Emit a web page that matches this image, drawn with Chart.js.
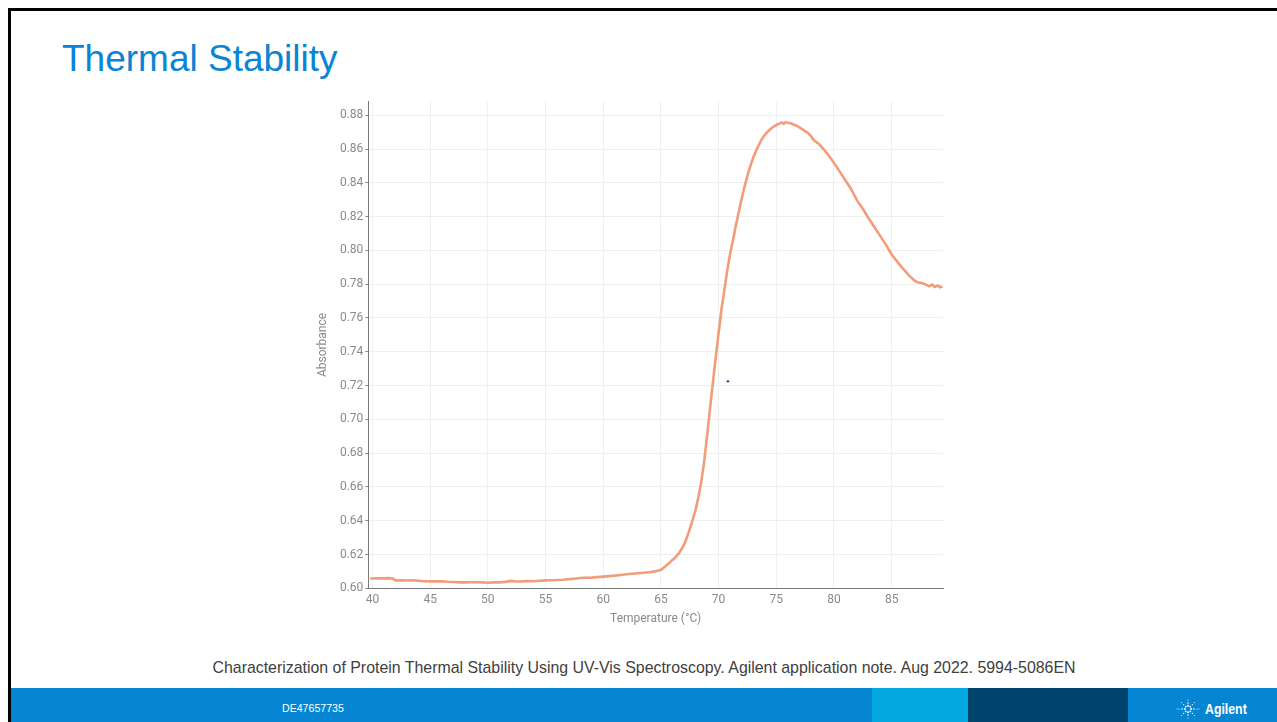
<!DOCTYPE html>
<html>
<head>
<meta charset="utf-8">
<title>Thermal Stability</title>
<script src="https://cdn.jsdelivr.net/npm/chart.js@4.4.1/dist/chart.umd.min.js"></script>
<style>
  html, body { margin: 0; padding: 0; background: #fff; }
  body { width: 1277px; height: 722px; position: relative; overflow: hidden;
         font-family: "Liberation Sans", Arial, sans-serif; }
  #frame { position: absolute; left: 8px; top: 8px; right: -4px; bottom: -4px;
           border-left: 3px solid #000; border-top: 3px solid #000; }
  #title { position: absolute; left: 62px; top: 40px; font-size: 37px; line-height: 37px;
           color: #0a84d4; white-space: nowrap; }
  #chartBox { position: absolute; left: 300px; top: 90px; width: 660px; height: 545px; }
  #cite { position: absolute; left: 0; width: 1288px; top: 660px; text-align: center;
          font-size: 15.9px; line-height: 16px; color: #404040; white-space: nowrap; }
  #band { position: absolute; left: 11px; right: 0; top: 688px; height: 34px; background: #0685d3; }
  #band .seg { position: absolute; top: 0; height: 34px; }
  #docId { position: absolute; left: 282px; top: 703px; font-size: 10.6px; line-height: 11px;
           color: #fff; white-space: nowrap; }
  #brand { position: absolute; left: 1176px; top: 698px; height: 22px; display: flex; align-items: center; }
  #brand span { font-family: "Liberation Sans Narrow", "Liberation Sans", Arial, sans-serif;
                font-weight: bold; font-size: 14px; color: #fff; margin-left: 5px;
                display: inline-block; transform: scaleX(0.88); transform-origin: left center; }
</style>
</head>
<body>
<div id="frame"></div>
<div id="title">Thermal Stability</div>
<div id="chartBox"><canvas id="chart" width="660" height="545"></canvas></div>
<div id="cite">Characterization of Protein Thermal Stability Using UV-Vis Spectroscopy. Agilent application note. Aug 2022. 5994-5086EN</div>
<div id="band">
  <div class="seg" style="left:861px;width:96px;background:#00a8df;"></div>
  <div class="seg" style="left:957px;width:160px;background:#00436e;"></div>
</div>
<div id="docId">DE47657735</div>
<div id="brand">
  <svg width="24" height="22" viewBox="-12 -11 24 22">
    <g fill="#fff">
      <circle r="1" cx="0" cy="-3.2"/><circle r="1" cx="0" cy="3.2"/>
      <circle r="1" cx="-3.2" cy="0"/><circle r="1" cx="3.2" cy="0"/>
      <circle r="0.9" cx="-2.3" cy="-2.3"/><circle r="0.9" cx="2.3" cy="-2.3"/>
      <circle r="0.9" cx="-2.3" cy="2.3"/><circle r="0.9" cx="2.3" cy="2.3"/>
      <circle r="0.8" cx="0" cy="-6"/><circle r="0.8" cx="0" cy="6"/>
      <circle r="0.8" cx="-6" cy="0"/><circle r="0.8" cx="6" cy="0"/>
      <circle r="0.7" cx="-4.4" cy="-4.4"/><circle r="0.7" cx="4.4" cy="-4.4"/>
      <circle r="0.7" cx="-4.4" cy="4.4"/><circle r="0.7" cx="4.4" cy="4.4"/>
      <circle r="0.6" cx="0" cy="-9"/><circle r="0.6" cx="0" cy="9"/>
      <circle r="0.6" cx="-9" cy="0"/><circle r="0.6" cx="9" cy="0"/>
      <circle r="0.5" cx="-6.5" cy="-6.5"/><circle r="0.5" cx="6.5" cy="-6.5"/>
      <circle r="0.5" cx="-6.5" cy="6.5"/><circle r="0.5" cx="6.5" cy="6.5"/>
      <circle r="0.5" cx="-11" cy="0"/><circle r="0.5" cx="11" cy="0"/>
    </g>
  </svg>
  <span>Agilent</span>
</div>

<script>
// Melting curve: absorbance vs. temperature
const temperatureC = [
  39.8, 40.5, 41.0, 41.5, 41.8, 42.0, 42.5, 43.0, 43.5, 44.0, 44.5, 45.0, 45.5, 46.0, 46.5,
  47.0, 47.5, 48.0, 48.5, 49.0, 49.5, 50.0, 50.5, 51.0, 51.5, 52.0, 52.5, 53.0, 53.5, 54.0,
  54.5, 55.0, 55.5, 56.0, 56.5, 57.0, 57.5, 58.0, 58.5, 59.0, 59.5, 60.0, 60.5, 61.0, 61.5,
  62.0, 62.5, 63.0, 63.5, 64.0, 64.5, 65.0, 65.25, 65.5, 65.75, 66.0, 66.25, 66.5, 66.75, 67.0,
  67.25, 67.5, 67.75, 68.0, 68.25, 68.5, 68.75, 69.0, 69.25, 69.5, 69.75, 70.0, 70.25, 70.5, 70.75,
  71.0, 71.25, 71.5, 71.75, 72.0, 72.25, 72.5, 72.75, 73.0, 73.25, 73.5, 73.75, 74.0, 74.25, 74.5,
  74.75, 75.0, 75.25, 75.5, 75.65, 75.8, 76.0, 76.25, 76.5, 76.75, 77.0, 77.25, 77.5, 77.75, 78.0,
  78.25, 78.5, 78.75, 79.0, 79.5, 80.0, 80.5, 81.0, 81.5, 81.75, 82.0, 82.5, 83.0, 83.5, 84.0,
  84.5, 85.0, 85.5, 86.0, 86.5, 86.75, 87.0, 87.25, 87.5, 87.75, 88.0, 88.25, 88.5, 88.75, 89.0,
  89.2, 89.4
];
const absorbance = [
  0.6058, 0.6059, 0.6059, 0.6060, 0.6056, 0.6046, 0.6047, 0.6046, 0.6047, 0.6045, 0.6042, 0.6041, 0.6041, 0.6042, 0.6039,
  0.6037, 0.6035, 0.6035, 0.6036, 0.6036, 0.6035, 0.6033, 0.6035, 0.6035, 0.6038, 0.6044, 0.6040, 0.6041, 0.6043, 0.6042,
  0.6045, 0.6047, 0.6048, 0.6049, 0.6051, 0.6054, 0.6057, 0.6061, 0.6062, 0.6063, 0.6066, 0.6069, 0.6072, 0.6075, 0.6079,
  0.6083, 0.6086, 0.6089, 0.6092, 0.6095, 0.6100, 0.6110, 0.6122, 0.6136, 0.6152, 0.6168, 0.6183, 0.6202, 0.6226, 0.6258,
  0.6300, 0.6350, 0.6405, 0.6463, 0.6540, 0.6630, 0.6750, 0.6900, 0.7058, 0.7213, 0.7365, 0.7510, 0.7650, 0.7765, 0.7880,
  0.7980, 0.8062, 0.8148, 0.8228, 0.8305, 0.8378, 0.8442, 0.8498, 0.8548, 0.8590, 0.8626, 0.8658, 0.8684, 0.8702, 0.8718,
  0.8732, 0.8742, 0.8750, 0.8757, 0.8749, 0.8758, 0.8755, 0.8752, 0.8745, 0.8738, 0.8728, 0.8718, 0.8706, 0.8695, 0.8676,
  0.8652, 0.8640, 0.8626, 0.8607, 0.8566, 0.8518, 0.8466, 0.8414, 0.8362, 0.8328, 0.8296, 0.8246, 0.8190, 0.8138, 0.8086,
  0.8034, 0.7976, 0.7932, 0.7890, 0.7852, 0.7836, 0.7820, 0.7812, 0.7808, 0.7804, 0.7796, 0.7787, 0.7797, 0.7784, 0.7792,
  0.7782, 0.7786
];
// Cursor marker left on the plot
const markerTemp = [70.81];
const markerAbs = [0.7225];

const xTickValues = [40, 45, 50, 55, 60, 65, 70, 75, 80, 85];
const yTickValues = [0.60, 0.62, 0.64, 0.66, 0.68, 0.70, 0.72, 0.74, 0.76, 0.78, 0.80, 0.82, 0.84, 0.86, 0.88];

const axisFont = { family: 'Roboto', size: 12 };
const labelColor = '#8a8a8a';
const gridColor = '#efefef';
const axisLineColor = '#7a7a7a';

new Chart(document.getElementById('chart'), {
  type: 'line',
  data: {
    datasets: [
      {
        data: temperatureC.map((t, i) => ({ x: t, y: absorbance[i] })),
        borderColor: '#f39c79',
        borderWidth: 2.6,
        pointRadius: 0,
        tension: 0,
        fill: false,
        order: 2
      },
      {
        type: 'scatter',
        data: markerTemp.map((t, i) => ({ x: t, y: markerAbs[i] })),
        pointRadius: 1.2,
        pointBackgroundColor: '#262699',
        pointBorderWidth: 0,
        order: 1
      }
    ]
  },
  options: {
    responsive: false,
    animation: false,
    events: [],
    layout: { padding: { left: 0, right: 17, top: 11.7, bottom: 0 } },
    plugins: { legend: { display: false }, tooltip: { enabled: false } },
    scales: {
      x: {
        type: 'linear',
        min: 39.64,
        max: 89.45,
        afterBuildTicks: s => { s.ticks = xTickValues.map(v => ({ value: v })); },
        afterFit: s => { s.height = 46.7; },
        grid: { color: gridColor, drawTicks: false },
        border: { color: axisLineColor, width: 1 },
        ticks: { padding: 4, color: labelColor, font: axisFont, maxRotation: 0, callback: v => String(v) },
        title: { display: true, text: 'Temperature (°C)', color: labelColor, font: axisFont,
                 padding: { top: 0, bottom: 8.8 } }
      },
      y: {
        type: 'linear',
        min: 0.60,
        max: 0.888,
        afterBuildTicks: s => { s.ticks = yTickValues.map(v => ({ value: v })); },
        afterFit: s => { s.width = 68.3; },
        grid: { color: gridColor, tickLength: 3, tickColor: '#8a8a8a' },
        border: { color: axisLineColor, width: 1 },
        ticks: { padding: 2, color: labelColor, font: axisFont, callback: v => v.toFixed(2) },
        title: { display: true, text: 'Absorbance', color: labelColor, font: axisFont,
                 padding: { top: 15.8, bottom: 0 } }
      }
    }
  }
});
</script>
</body>
</html>
